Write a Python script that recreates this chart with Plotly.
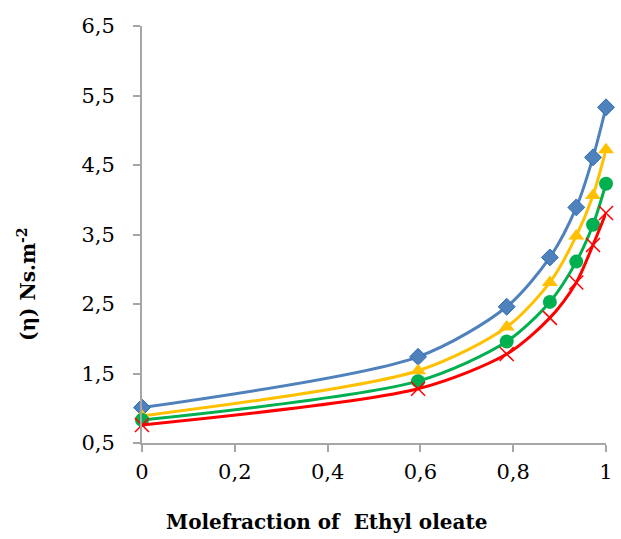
import plotly.graph_objects as go

x_frac = [0, 0.595, 0.786, 0.879, 0.936, 0.972, 1.0]
eta_blue = [1.01, 1.74, 2.46, 3.17, 3.89, 4.61, 5.33]
eta_yellow = [0.89, 1.54, 2.17, 2.81, 3.48, 4.06, 4.72]
eta_green = [0.83, 1.39, 1.96, 2.53, 3.11, 3.64, 4.23]
eta_red = [0.76, 1.28, 1.78, 2.30, 2.81, 3.35, 3.81]

y_ticks = [0.5, 1.5, 2.5, 3.5, 4.5, 5.5, 6.5]
x_ticks = [0, 0.2, 0.4, 0.6, 0.8, 1]

fig = go.Figure()
series = [
    (eta_blue, "#4F81BD", dict(symbol="diamond", size=13, color="#4F81BD", line=dict(color="#2E6DB4", width=1))),
    (eta_yellow, "#FFC000", dict(symbol="triangle-up", size=14, color="#FFC000")),
    (eta_green, "#00B050", dict(symbol="circle", size=14, color="#00B050")),
    (eta_red, "#FF0000", dict(symbol="x-thin-open", size=14, color="#FF0000", line=dict(color="#FF0000", width=1.5))),
]
for ys, col, mk in series:
    fig.add_trace(go.Scatter(x=x_frac, y=ys, mode="lines+markers",
                             line=dict(color=col, width=3, shape="spline", smoothing=0.8),
                             marker=mk, showlegend=False, cliponaxis=False))

font_family = "DejaVu Serif"
fig.update_layout(
    width=621, height=539,
    margin=dict(l=142, r=8, t=26, b=96),
    plot_bgcolor="white", paper_bgcolor="white",
    separators=",.",
    font=dict(family=font_family, size=21, color="black"),
    xaxis=dict(range=[0, 1], tickvals=x_ticks, showgrid=False, zeroline=False,
               showline=True, linecolor="#A6A6A6", linewidth=2, ticks="outside",
               tickcolor="#A6A6A6", ticklen=7, tickwidth=2, ticklabelstandoff=2,
               tickfont=dict(family=font_family, size=21)),
    yaxis=dict(range=[0.5, 6.5], tickvals=y_ticks, tickformat=".1f", showgrid=False, zeroline=False,
               showline=True, linecolor="#A6A6A6", linewidth=2, ticks="outside",
               tickcolor="#A6A6A6", ticklen=7, tickwidth=2, ticklabelstandoff=14,
               tickfont=dict(family=font_family, size=21)),
    annotations=[
        dict(text="<b>Molefraction of  Ethyl oleate</b>", xref="paper", yref="paper",
             x=0.398, y=-0.189, xanchor="center", yanchor="middle", showarrow=False,
             font=dict(family=font_family, size=20)),
        dict(text="<b>(η) Ns.m<sup>-2</sup></b>", xref="paper", yref="paper",
             x=-0.248, y=0.381, xanchor="center", yanchor="middle", textangle=-90,
             showarrow=False, font=dict(family=font_family, size=20)),
    ],
)
fig.write_html("out.html")
